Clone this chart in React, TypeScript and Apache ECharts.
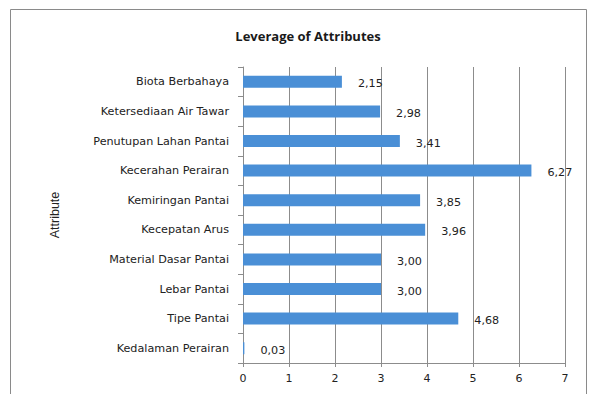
import React, { useEffect, useRef } from "react";
import * as echarts from "echarts";

// Attributes listed bottom-to-top (category axis starts at the bottom)
const attributes = [
  "Kedalaman Perairan",
  "Tipe Pantai",
  "Lebar Pantai",
  "Material Dasar Pantai",
  "Kecepatan Arus",
  "Kemiringan Pantai",
  "Kecerahan Perairan",
  "Penutupan Lahan Pantai",
  "Ketersediaan Air Tawar",
  "Biota Berbahaya",
];
const leverage = [0.03, 4.68, 3.0, 3.0, 3.96, 3.85, 6.27, 3.41, 2.98, 2.15];
const xTicks = [0, 1, 2, 3, 4, 5, 6, 7];

const labelFont = "'DejaVu Sans', Verdana, sans-serif";

export default function App() {
  const ref = useRef<HTMLDivElement>(null);

  useEffect(() => {
    if (!ref.current) return;
    const chart = echarts.init(ref.current, null, { renderer: "svg" });
    chart.setOption({
      animation: false,
      backgroundColor: "#ffffff",
      title: {
        text: "Leverage of Attributes",
        left: 303,
        top: 24,
        textAlign: "center",
        textStyle: {
          fontFamily: "'Open Sans', sans-serif",
          fontWeight: "bold",
          fontSize: 13,
          color: "#1a1a1a",
        },
      },
      graphic: [
        {
          type: "rect",
          shape: { x: 10.5, y: 9.5, width: 576, height: 400 },
          style: { fill: "none", stroke: "#8a8a8a", lineWidth: 1 },
          silent: true,
        },
      ],
      grid: { left: 243, top: 67, right: 27, bottom: 31, containLabel: false },
      xAxis: {
        type: "value",
        min: xTicks[0],
        max: xTicks[xTicks.length - 1],
        interval: 1,
        axisLine: { show: true, lineStyle: { color: "#8c8c8c" } },
        axisTick: { show: true, length: 4, lineStyle: { color: "#8c8c8c" } },
        axisLabel: {
          margin: 10,
          fontFamily: labelFont,
          fontSize: 11,
          color: "#222",
        },
        splitLine: { show: true, lineStyle: { color: "#8c8c8c", width: 1 } },
      },
      yAxis: {
        type: "category",
        data: attributes,
        name: "Attribute",
        nameLocation: "middle",
        nameGap: 182,
        nameRotate: 90,
        nameTextStyle: {
          fontFamily: "'Liberation Sans Narrow', 'Liberation Sans', sans-serif",
          fontSize: 12.5,
          color: "#222",
        },
        axisLine: { show: true, lineStyle: { color: "#8c8c8c" } },
        axisTick: { show: true, length: 5, lineStyle: { color: "#8c8c8c" } },
        axisLabel: {
          margin: 14,
          fontFamily: labelFont,
          fontSize: 11.2,
          color: "#222",
        },
      },
      series: [
        {
          type: "bar",
          data: leverage,
          barWidth: 12,
          itemStyle: { color: "#4a8fd6" },
          label: {
            show: true,
            position: "right",
            distance: 16,
            offset: [0, 2],
            fontFamily: labelFont,
            fontSize: 11.2,
            color: "#222",
            formatter: (p: any) => Number(p.value).toFixed(2).replace(".", ","),
          },
        },
      ],
    });
    return () => chart.dispose();
  }, []);

  return (
    <div
      ref={ref}
      style={{ position: "fixed", left: 0, top: 0, width: 592, height: 394 }}
    />
  );
}
